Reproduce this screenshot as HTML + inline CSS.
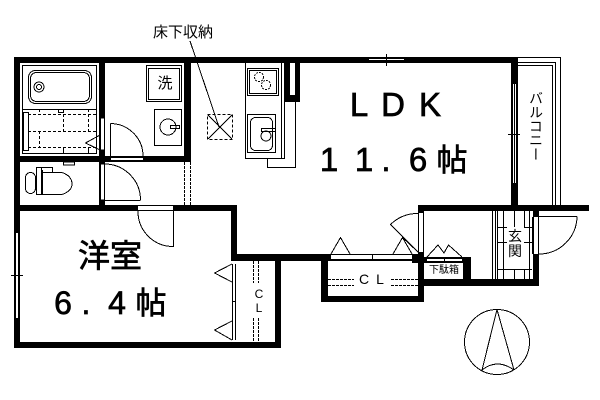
<!DOCTYPE html>
<html><head><meta charset="utf-8"><style>
html,body{margin:0;padding:0;background:#fff;width:600px;height:400px;overflow:hidden}
svg{position:absolute;left:0;top:0}
text{font-family:"Liberation Sans","Noto Sans CJK JP",sans-serif;fill:#000;text-anchor:middle}
.b{stroke:#000;stroke-width:.7}
.v{position:absolute;left:527px;top:91px;width:16px;font:14px/14.4px "Noto Sans CJK JP",sans-serif;writing-mode:vertical-rl;color:#000}
</style></head><body>
<svg width="600" height="400" viewBox="0 0 600 400" xmlns="http://www.w3.org/2000/svg">
<g fill="#000" shape-rendering="crispEdges">
<rect x="14" y="57" width="501" height="6"/>
<rect x="14" y="57" width="6" height="291"/>
<rect x="14" y="342" width="267" height="6"/>
<rect x="275" y="254" width="6" height="94"/>
<rect x="231" y="254" width="187" height="7"/>
<rect x="231" y="205" width="6" height="56"/>
<rect x="14" y="205" width="223" height="6"/>
<rect x="99" y="57" width="6" height="154"/>
<rect x="20" y="156" width="171" height="6"/>
<rect x="184" y="57" width="7" height="105"/>
<rect x="511" y="57" width="7" height="154"/>
<rect x="418" y="205" width="171" height="6"/>
<rect x="418" y="205" width="6" height="97"/>
<rect x="321" y="254" width="7" height="48"/>
<rect x="321" y="296" width="103" height="6"/>
<rect x="424" y="279" width="115" height="7"/>
<rect x="533" y="254" width="6" height="32"/>
<rect x="533" y="205" width="6" height="12"/>
<rect x="424" y="257" width="47" height="6"/>
<rect x="463" y="257" width="8" height="24"/>
<rect x="412" y="254" width="12" height="9"/>
<rect x="284" y="63" width="16" height="39"/>
</g>
<g fill="#fff" shape-rendering="crispEdges">
<rect x="290" y="63" width="5" height="32"/>
<rect x="369" y="58" width="35" height="4"/>
<rect x="15" y="233" width="4" height="85"/>
<rect x="512" y="84" width="5" height="99"/>
<rect x="100" y="118" width="5" height="32"/>
<rect x="100" y="164" width="5" height="36"/>
<rect x="111" y="157" width="32" height="4"/>
<rect x="138" y="206" width="35" height="4"/>
<rect x="232" y="264" width="4" height="76"/>
<rect x="331" y="255" width="81" height="5"/>
<rect x="427" y="258" width="35" height="4"/>
<rect x="418" y="213" width="6" height="39"/>
<rect x="533" y="217" width="6" height="37"/>
</g>
<g fill="none" stroke="#000" stroke-width="1" shape-rendering="crispEdges">
<path d="M369 60.5H404M386.5 54V66"/>
<path d="M369 58.5H404M369 61.5H404"/>
<path d="M15.5 233V318M18.5 233V318M11 275.5H23"/>
<path d="M512.5 84V183M514.5 84V183M516.5 84V183M508 134.5H520"/>
<path d="M100.5 118V150M104.5 118V150H100.5M100.5 118H104.5"/>
<path d="M100.5 164V200M104.5 164V200M100.5 164H104.5M100.5 200H104.5"/>
<path d="M111 157.5H143M111 160.5H143"/>
<path d="M138 205.5H173M138 210.5H173"/>
<path d="M232.5 264V340M235.5 264V340M232 301.5H236"/>
<path d="M331 254.5H412M331 259.5H412M372.5 254V260"/>
<path d="M427 258.5H462M427 261.5H462M444.5 257V263"/>
<path d="M418.5 213V252M423.5 213V252"/>
<path d="M533.5 217V254M538.5 217V254"/>
<path d="M518 57.5H560.5V205M518 62.5H555.5V205M518 65.5H552.5V205"/>
<rect x="22.5" y="65.5" width="74" height="88"/>
<path d="M22 109.5H97"/>
<rect x="23.5" y="112.5" width="5" height="38"/>
<rect x="58.5" y="109.5" width="5" height="3"/>
<path d="M39.5 109V112M88.5 109V112M63.5 147V154M88.5 147V154"/>
<path stroke-dasharray="3 2" d="M28 114.5H97M28 131.5H97M28 147.5H97M39.5 131V147M63.5 114V131M88.5 114V131"/>
<path d="M100 135L85.5 143L100 150"/>
<rect x="146.5" y="65.5" width="35" height="36"/>
<rect x="148.5" y="68.5" width="31" height="31"/>
<rect x="154.5" y="109.5" width="27" height="36"/>
<rect x="170.5" y="125.5" width="9" height="3"/>
<rect x="63.5" y="162" width="11" height="3"/>
<rect x="36.5" y="167.5" width="5" height="27"/>
<rect x="41.5" y="170.5" width="1" height="24"/>
<path d="M37 167.5H52.5V172"/>
<path d="M245.5 63V158.5H284.5V102M281.5 63V158M267.5 158.5V167.5H295.5V102"/>
<rect x="247.5" y="68.5" width="31" height="27"/>
<rect x="249.5" y="70.5" width="27" height="23"/>
<rect x="247.5" y="114.5" width="28" height="38"/>
<rect x="261.5" y="128.5" width="14" height="3"/>
<rect x="207.5" y="114.5" width="25" height="25" stroke-dasharray="3 2"/>
<path d="M208 115L232 139M232 115L208 139"/>
<path stroke-dasharray="3 1" d="M184.5 162V205M190.5 162V205"/>
<path stroke-dasharray="3 1" d="M253.5 261V283M258.5 261V283M253.5 318V342M258.5 318V342"/>
<path stroke-dasharray="3 1" d="M328 279.5H354M328 285.5H354M391 279.5H418M391 285.5H418"/>
<path d="M110.5 157V123.5"/>
<path d="M105 200.5H140.5"/>
<path d="M173.5 211V247"/>
<path d="M539 216.5H577"/>
<path d="M492.5 211V279M495.5 211V279M497.5 211V279M532.5 217V254M529.5 211V279"/>
<path d="M503.5 211V227M514.5 211V227M524.5 211V227M503.5 269V279M514.5 269V279M524.5 269V279M503.5 227V269"/>
<path d="M497 227.5H509M524 227.5H532M497 242.5H509M524 242.5H532M497 269.5H532"/>
<rect x="28.5" y="70.5" width="63" height="33" rx="7"/>
<rect x="30.5" y="72.5" width="59" height="29" rx="6"/>
<circle cx="39" cy="87" r="5"/><circle cx="39" cy="87" r="2.5"/>
<circle cx="168" cy="127" r="8"/>
<path d="M42 172.5H62Q72 176 72 184Q72 191 62 194.5H42"/>
<rect x="25.5" y="172.5" width="10" height="21" rx="5"/>
<circle cx="259" cy="77" r="4.5" stroke-dasharray="2 1"/>
<circle cx="266" cy="85" r="4.5" stroke-dasharray="2 1"/>
<rect x="250.5" y="117.5" width="22" height="33" rx="5"/>
<circle cx="266" cy="136" r="5"/>
<path d="M190 41L219 127"/>
<path d="M110.5 123.5A33 33 0 0 1 143 157"/>
<path d="M105 164A36 36 0 0 1 140.5 200"/>
<path d="M138 211A35 35 0 0 0 173 246.5"/>
<path d="M577 216.5A38 38 0 0 1 539 254"/>
<path d="M418 252L390.5 224.5A39 39 0 0 1 418 213.5"/>
<path d="M331 254L340.5 237.5L350 254"/>
<path d="M393 254L402.5 237.5L412 254M402.5 237.5L418 252"/>
<path d="M427 257L438 245L444 253L448.5 245L462 257"/>
<path d="M232 264L214.5 273L232 282"/>
<path d="M232 321L214.5 330L232 340"/>
<circle cx="497" cy="342" r="32.5"/>
<path d="M497 309.5L482 370M497 309.5L514 370M482 370Q497 358 514 370"/>
</g>
<rect x="507" y="227" width="17" height="32" fill="#fff"/>
<text x="183" y="37" font-size="15">床下収納</text>
<text x="165" y="88" font-size="15">洗</text>
<text class="b" x="359" y="116" font-size="33">L</text>
<text class="b" x="393" y="116" font-size="33">D</text>
<text class="b" x="430" y="116" font-size="33">K</text>
<text class="b" x="329" y="171" font-size="33">1</text>
<text class="b" x="364" y="171" font-size="33">1</text>
<text class="b" x="386" y="171" font-size="33">.</text>
<text class="b" x="418" y="171" font-size="33">6</text>
<text class="b" x="452" y="171" font-size="31">帖</text>
<text class="b" x="110" y="267" font-size="32">洋室</text>
<text class="b" x="63" y="314" font-size="32">6</text>
<text class="b" x="86" y="314" font-size="32">.</text>
<text class="b" x="117" y="314" font-size="32">4</text>
<text class="b" x="151" y="314" font-size="31">帖</text>
<text x="364" y="284" font-size="14">C</text>
<text x="380" y="284" font-size="14">L</text>
<text x="259" y="298" font-size="12">C</text>
<text x="259" y="312" font-size="12">L</text>
<text x="444" y="273" font-size="10">下駄箱</text>
<text x="515" y="241" font-size="14">玄</text>
<text x="515" y="256" font-size="14">関</text>
</svg>
<div class="v">バルコニー</div>
</body></html>
